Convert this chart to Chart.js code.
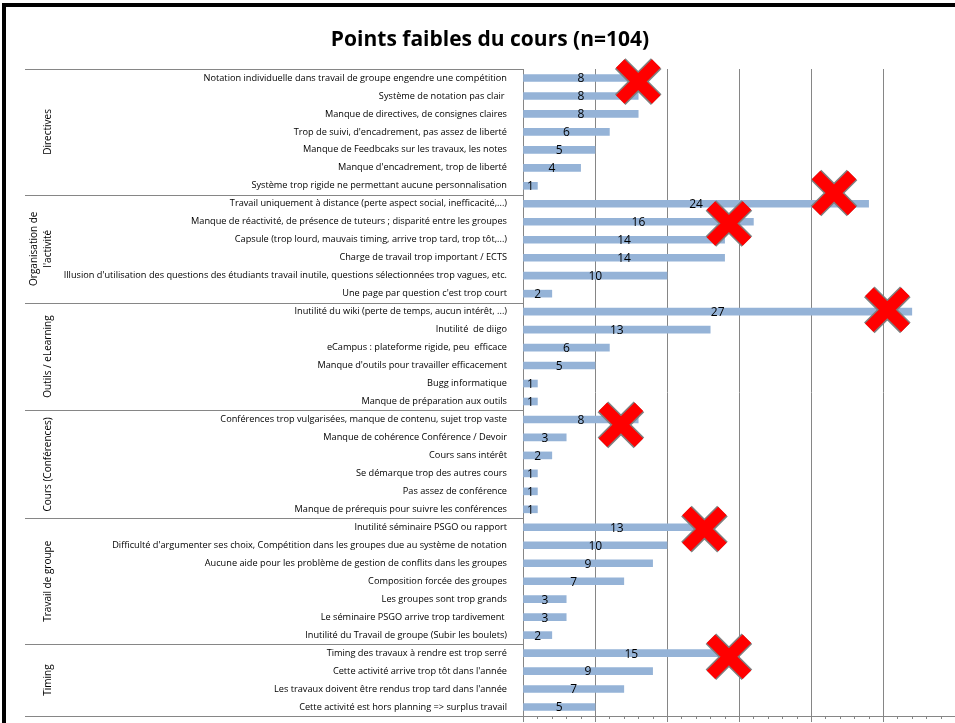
<!doctype html>
<html lang="fr">
  <head>
    <meta charset="utf-8">
    <title>Points faibles du cours</title>
    <style>
      * { margin: 0; padding: 0; }
      body { background: #fff; }
      .chartBox { width: 955px; height: 723px; }
    </style>
  </head>
  <body>
    <div class="chartBox">
      <canvas id="myChart"></canvas>
    </div>
    <script src="https://cdn.jsdelivr.net/npm/chart.js/dist/chart.umd.min.js"></script>
    <script>
      // data
      const categories = [
        'Notation individuelle dans travail de groupe engendre une compétition',
        'Système de notation pas clair ',
        'Manque de directives, de consignes claires',
        'Trop de suivi, d\'encadrement, pas assez de liberté',
        'Manque de Feedbcaks sur les travaux, les notes',
        'Manque d\'encadrement, trop de liberté',
        'Système trop rigide ne permettant aucune personnalisation',
        'Travail uniquement à distance (perte aspect social, inefficacité,...)',
        'Manque de réactivité, de présence de tuteurs ; disparité entre les groupes',
        'Capsule (trop lourd, mauvais timing, arrive trop tard, trop tôt,...)',
        'Charge de travail trop important / ECTS',
        'Illusion d\'utilisation des questions des étudiants travail inutile, questions sélectionnées trop vagues, etc.',
        'Une page par question c\'est trop court',
        'Inutilité du wiki (perte de temps, aucun intérêt, ...)',
        'Inutilité  de diigo',
        'eCampus : plateforme rigide, peu  efficace',
        'Manque d\'outils pour travailler efficacement',
        'Bugg informatique',
        'Manque de préparation aux outils',
        'Conférences trop vulgarisées, manque de contenu, sujet trop vaste',
        'Manque de cohérence Conférence / Devoir',
        'Cours sans intérêt',
        'Se démarque trop des autres cours',
        'Pas assez de conférence',
        'Manque de prérequis pour suivre les conférences',
        'Inutilité séminaire PSGO ou rapport',
        'Difficulté d\'argumenter ses choix, Compétition dans les groupes due au système de notation',
        'Aucune aide pour les problème de gestion de conflits dans les groupes',
        'Composition forcée des groupes',
        'Les groupes sont trop grands',
        'Le séminaire PSGO arrive trop tardivement ',
        'Inutilité du Travail de groupe (Subir les boulets)',
        'Timing des travaux à rendre est trop serré',
        'Cette activité arrive trop tôt dans l\'année',
        'Les travaux doivent être rendus trop tard dans l\'année',
        'Cette activité est hors planning => surplus travail'
      ];
      const values = [8, 8, 8, 6, 5, 4, 1, 24, 16, 14, 14, 10, 2, 27, 13, 6, 5, 1, 1,
                      8, 3, 2, 1, 1, 1, 13, 10, 9, 7, 3, 3, 2, 15, 9, 7, 5];
      const groupNames = [['Directives'], ['Organisation de', 'l\'activité'], ['Outils / eLearning'],
                          ['Cours (Conférences)'], ['Travail de groupe'], ['Timing']];
      const groupSizes = [7, 6, 6, 6, 7, 4];
      // red crosses: value on x axis, row index on y axis
      const crossValues = [8, 21.6, 14.3, 25.3, 6.8, 12.6, 14.3];
      const crossRows = [0.2, 6.4, 8.1, 12.9, 19.3, 25.1, 32.2];

      const gridColor = '#868686';

      const decorations = {
        id: 'decorations',
        beforeDraw(chart) {
          const { ctx } = chart;
          ctx.save();
          // frame
          ctx.strokeStyle = '#000';
          ctx.lineWidth = 4;
          ctx.beginPath();
          ctx.moveTo(4, 723);
          ctx.lineTo(4, 5);
          ctx.lineTo(955, 5);
          ctx.stroke();
          // title
          ctx.fillStyle = '#000';
          ctx.font = 'bold 21px "Open Sans", sans-serif';
          ctx.textAlign = 'center';
          ctx.textBaseline = 'middle';
          ctx.fillText('Points faibles du cours (n=104)', 490, 40);
          ctx.restore();
        },
        afterDraw(chart) {
          const { ctx, chartArea, scales: { x, y } } = chart;
          const rowH = (chartArea.bottom - chartArea.top) / categories.length;
          ctx.save();
          // group separators and labels
          ctx.strokeStyle = gridColor;
          ctx.lineWidth = 1;
          let start = 0;
          const sepAt = i => Math.round(chartArea.top + i * rowH) + 0.5;
          ctx.beginPath();
          ctx.moveTo(25, sepAt(0));
          ctx.lineTo(chartArea.left, sepAt(0));
          ctx.stroke();
          groupSizes.forEach((n, g) => {
            const end = start + n;
            ctx.beginPath();
            ctx.moveTo(25, sepAt(end));
            ctx.lineTo(chartArea.left, sepAt(end));
            ctx.stroke();
            const cy = chartArea.top + (start + end) / 2 * rowH;
            const lines = groupNames[g];
            ctx.save();
            ctx.translate(48, cy);
            ctx.rotate(-Math.PI / 2);
            ctx.fillStyle = '#000';
            ctx.font = '10px "Open Sans", sans-serif';
            ctx.textAlign = 'center';
            ctx.textBaseline = 'middle';
            lines.forEach((t, k) => {
              ctx.fillText(t, 0, (k - (lines.length - 1)) * 14);
            });
            ctx.restore();
            start = end;
          });
          // x tick marks
          ctx.strokeStyle = gridColor;
          for (let v = 0; v <= 30; v++) {
            const px = Math.round(x.getPixelForValue(v)) + 0.5;
            ctx.beginPath();
            ctx.moveTo(px, chartArea.bottom);
            ctx.lineTo(px, chartArea.bottom + (v % 5 === 0 ? 6 : 3));
            ctx.stroke();
          }
          // value labels
          const meta = chart.getDatasetMeta(0);
          ctx.fillStyle = '#000';
          ctx.font = '12px "Open Sans", sans-serif';
          ctx.textAlign = 'center';
          ctx.textBaseline = 'middle';
          meta.data.forEach((bar, i) => {
            ctx.fillText(values[i], (bar.base + bar.x) / 2, bar.y + 1);
          });
          // crosses
          crossValues.forEach((v, i) => {
            const cx = x.getPixelForValue(v);
            const cy = y.getPixelForValue(crossRows[i]);
            const d = 18;
            ctx.lineCap = 'butt';
            [['#7f7f7f', 15], ['#ff0000', 12]].forEach(([c, w]) => {
              ctx.strokeStyle = c;
              ctx.lineWidth = w;
              ctx.beginPath();
              ctx.moveTo(cx - d, cy - d);
              ctx.lineTo(cx + d, cy + d);
              ctx.moveTo(cx + d, cy - d);
              ctx.lineTo(cx - d, cy + d);
              ctx.stroke();
            });
          });
          ctx.restore();
        }
      };

      const config = {
        type: 'bar',
        data: {
          labels: categories,
          datasets: [{
            data: values,
            backgroundColor: '#95b3d7',
            borderWidth: 0,
            barThickness: 7
          }]
        },
        options: {
          indexAxis: 'y',
          responsive: false,
          animation: false,
          layout: { padding: { top: 69, left: 0, right: 0, bottom: 7 } },
          plugins: {
            legend: { display: false },
            tooltip: { enabled: false }
          },
          scales: {
            x: {
              min: 0,
              max: 30,
              ticks: { display: false, stepSize: 5 },
              grid: { color: gridColor, drawTicks: false },
              border: { display: true, color: gridColor },
              afterFit(scale) {
                scale.height = 0;
                scale.paddingLeft = scale.paddingRight = 0;
              }
            },
            y: {
              ticks: {
                color: '#000',
                font: { size: 9.2, family: '"Open Sans", sans-serif' },
                padding: 8,
                autoSkip: false
              },
              grid: { display: false },
              border: { display: true, color: gridColor },
              afterFit(scale) {
                scale.width = 523;
                scale.paddingTop = scale.paddingBottom = 0;
              }
            }
          }
        },
        plugins: [decorations]
      };

      const canvas = document.getElementById('myChart');
      canvas.width = 955;
      canvas.height = 723;
      const myChart = new Chart(canvas, config);
    </script>
  </body>
</html>
